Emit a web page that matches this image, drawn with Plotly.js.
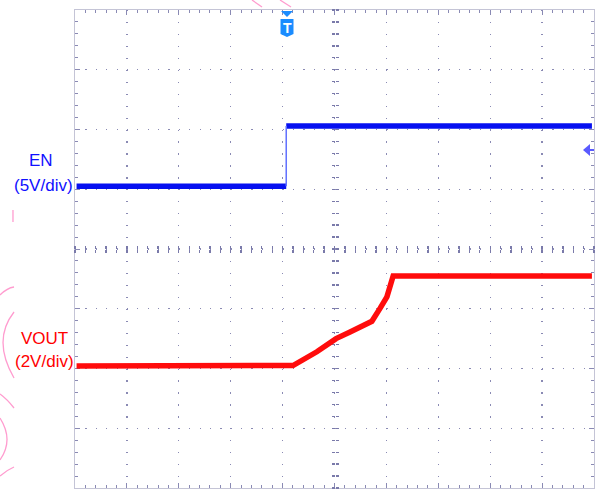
<!DOCTYPE html>
<html>
<head>
<meta charset="utf-8">
<script src="https://cdn.plot.ly/plotly-3.0.1.min.js"></script>
<style>html,body{margin:0;padding:0;background:#fff;}#chart{width:607px;height:490px;}</style>
</head>
<body>
<div id="chart"></div>
<script>
// Scope trace data, in screen divisions (10 horizontal x 8 vertical, centre = 0)
const enTime   = [-4.97, -0.93, -0.93, 4.96];
const enLevel  = [1.05, 1.05, 2.06, 2.06];
const voutTime  = [-4.97, -0.80, -0.34, 0.03, 0.30, 0.55, 0.72, 0.88, 1.01, 1.13, 4.96];
const voutLevel = [-1.96, -1.95, -1.72, -1.50, -1.39, -1.29, -1.21, -0.99, -0.80, -0.45, -0.45];
const enLabel   = ["EN", "(5V/div)"];
const voutLabel = ["VOUT", "(2V/div)"];

// plot-area geometry helpers (pixel -> paper), for decorations only
const L = 75, R = 594, T = 10, B = 488;
const px = x => (x - L) / (R - L);
const py = y => (B - y) / (B - T);
const P = (x, y) => px(x).toFixed(4) + ',' + py(y).toFixed(4);

const blue = '#0610f0', red = '#ff0c0c';
const gridC = '#8a8ab4';
const labelFont = "'Liberation Sans', Arial, sans-serif";

// EN: flat segments thick, edge thin
const enThickX = [enTime[0], enTime[1], null, enTime[2], enTime[3]];
const enThickY = [enLevel[0], enLevel[1], null, enLevel[2], enLevel[3]];

const traces = [
  {x: [], y: [], xaxis: 'x2', yaxis: 'y2'},
  {x: [], y: [], xaxis: 'x3', yaxis: 'y3'},
  {x: enThickX, y: enThickY, mode: 'lines', line: {color: blue, width: 5.5}, hoverinfo: 'skip'},
  {x: [enTime[1], enTime[2]], y: [enLevel[1], enLevel[2]], mode: 'lines', line: {color: '#6070ff', width: 1.5}, hoverinfo: 'skip'},
  {x: voutTime, y: voutLevel, mode: 'lines', line: {color: red, width: 5.5}, hoverinfo: 'skip'}
];

const baseAx = {showticklabels: false, zeroline: false, fixedrange: true};
const centreAx = {showgrid: false, showline: false, ticks: 'outside', ticklen: 3, tickwidth: 1.3, tickcolor: '#7a7aaa', layer: 'below traces'};
const layout = {
  width: 607, height: 490,
  margin: {l: L, r: 607 - R, t: T, b: 490 - B, pad: 0},
  paper_bgcolor: '#ffffff', plot_bgcolor: '#ffffff',
  showlegend: false,
  xaxis: Object.assign({}, baseAx, {
    range: [-5, 5], dtick: 1, tick0: 0,
    showgrid: true, gridcolor: gridC, gridwidth: 1.2, griddash: '1.2px,10.75px',
    showline: true, linecolor: '#c4c4d6', linewidth: 1, mirror: 'allticks',
    ticks: 'inside', ticklen: 5, tickcolor: gridC, layer: 'below traces',
    minor: {dtick: 0.2, ticks: 'inside', ticklen: 3, tickcolor: gridC, showgrid: false}
  }),
  yaxis: Object.assign({}, baseAx, {
    range: [-4, 4], dtick: 1, tick0: 0,
    showgrid: true, gridcolor: gridC, gridwidth: 1.2, griddash: '1.2px,9.18px',
    showline: true, linecolor: '#c4c4d6', linewidth: 1, mirror: 'allticks',
    ticks: 'inside', ticklen: 5, tickcolor: gridC, layer: 'below traces',
    minor: {dtick: 0.2, ticks: 'inside', ticklen: 3, tickcolor: gridC, showgrid: false}
  }),
  xaxis2: Object.assign({}, baseAx, centreAx, {overlaying: 'x', anchor: 'free', position: 0.5, side: 'bottom', range: [-5, 5], dtick: 0.2}),
  xaxis3: Object.assign({}, baseAx, centreAx, {overlaying: 'x', anchor: 'free', position: 0.5, side: 'top', range: [-5, 5], dtick: 0.2}),
  yaxis2: Object.assign({}, baseAx, centreAx, {overlaying: 'y', anchor: 'free', position: 0.5, side: 'left', range: [-4, 4], dtick: 0.2}),
  yaxis3: Object.assign({}, baseAx, centreAx, {overlaying: 'y', anchor: 'free', position: 0.5, side: 'right', range: [-4, 4], dtick: 0.2}),
  annotations: [
    {xref: 'paper', yref: 'paper', x: px(41), y: py(161), text: enLabel[0], showarrow: false, xanchor: 'center', yanchor: 'middle',
     font: {family: labelFont, size: 17, color: '#1010ff'}},
    {xref: 'paper', yref: 'paper', x: px(43), y: py(185), text: enLabel[1], showarrow: false, xanchor: 'center', yanchor: 'middle',
     font: {family: labelFont, size: 17, color: '#1010ff'}},
    {xref: 'paper', yref: 'paper', x: px(44), y: py(338), text: voutLabel[0], showarrow: false, xanchor: 'center', yanchor: 'middle',
     font: {family: labelFont, size: 17, color: '#ff0000'}},
    {xref: 'paper', yref: 'paper', x: px(44), y: py(361), text: voutLabel[1], showarrow: false, xanchor: 'center', yanchor: 'middle',
     font: {family: labelFont, size: 17, color: '#ff0000'}},
    {xref: 'paper', yref: 'paper', x: px(287), y: py(28), text: '<b>T</b>', showarrow: false, xanchor: 'center', yanchor: 'middle',
     font: {family: 'Liberation Sans, Arial, sans-serif', size: 14, color: '#ffffff'}}
  ],
  shapes: [
    // trigger marker
    {type: 'path', xref: 'paper', yref: 'paper', path: 'M' + P(281, 11) + 'L' + P(293, 11) + 'L' + P(287, 17) + 'Z',
     fillcolor: '#1a8cff', line: {width: 0}},
    {type: 'path', xref: 'paper', yref: 'paper',
     path: 'M' + P(280.5, 19) + 'L' + P(293.5, 19) + 'L' + P(293.5, 34) + 'L' + P(287, 37) + 'L' + P(280.5, 34) + 'Z',
     fillcolor: '#1a8cff', line: {width: 0}},
    // EN ground marker
    {type: 'path', xref: 'paper', yref: 'paper', path: 'M' + P(583, 150) + 'L' + P(590, 144) + 'L' + P(590, 156) + 'Z',
     fillcolor: '#5a5aff', line: {width: 0}},
    {type: 'line', xref: 'paper', yref: 'paper', x0: px(588), y0: py(150), x1: px(594), y1: py(150), line: {color: '#5a5aff', width: 2}},
    // pink artefacts
    {type: 'path', xref: 'paper', yref: 'paper', path: 'M' + P(252, 0) + 'L' + P(262, 7), line: {color: '#ff9ccf', width: 1.3}},
    {type: 'path', xref: 'paper', yref: 'paper', path: 'M' + P(280, 0) + 'L' + P(291, 7), line: {color: '#ff9ccf', width: 1.3}},
    {type: 'path', xref: 'paper', yref: 'paper', path: 'M' + P(13, 210) + 'L' + P(13, 222), line: {color: '#ff9ccf', width: 1.3}},
    {type: 'path', xref: 'paper', yref: 'paper', path: 'M' + P(0, 295) + 'Q' + P(7, 288) + ' ' + P(14, 287), line: {color: '#ff9ccf', width: 1.3}},
    {type: 'path', xref: 'paper', yref: 'paper', path: 'M' + P(14, 312) + 'Q' + P(-8, 340) + ' ' + P(14, 378), line: {color: '#ff9ccf', width: 1.3}},
    {type: 'path', xref: 'paper', yref: 'paper', path: 'M' + P(0, 394) + 'Q' + P(7, 399) + ' ' + P(14, 408), line: {color: '#ff9ccf', width: 1.3}},
    {type: 'path', xref: 'paper', yref: 'paper', path: 'M' + P(0, 418) + 'Q' + P(14, 440) + ' ' + P(0, 460), line: {color: '#ff9ccf', width: 1.3}},
    {type: 'path', xref: 'paper', yref: 'paper', path: 'M' + P(14, 467) + 'Q' + P(7, 470) + ' ' + P(0, 476), line: {color: '#ff9ccf', width: 1.3}}
  ]
};

Plotly.newPlot('chart', traces, layout, {staticPlot: true, displayModeBar: false});
</script>
</body>
</html>
